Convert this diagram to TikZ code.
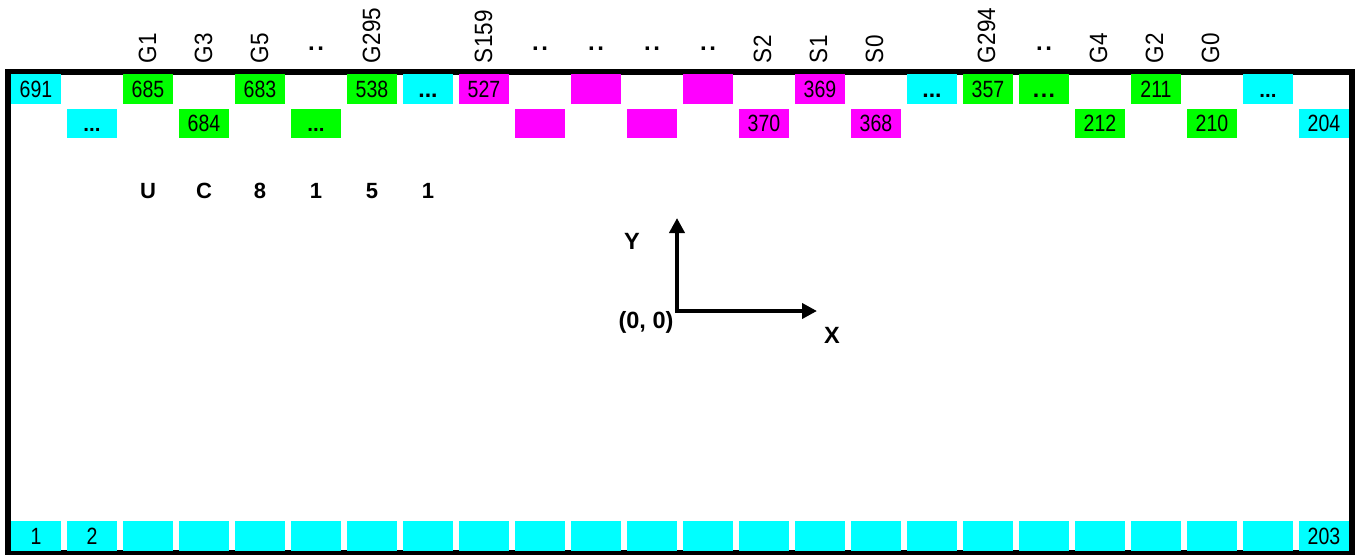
\documentclass[tikz,border=0pt]{standalone}
\usepackage{fontspec}
\setmainfont{Liberation Sans}
\newfontfamily\padfont[FakeStretch=0.83]{Liberation Sans}
\newfontfamily\rotfont[FakeStretch=0.9]{Liberation Sans}
\definecolor{padcyan}{RGB}{0,255,255}
\definecolor{padgreen}{RGB}{0,255,0}
\definecolor{padmag}{RGB}{255,0,255}
\usetikzlibrary{arrows.meta}
\tikzset{
  x=1pt,y=-1pt,
  pad/.style={anchor=north west,inner sep=0pt,outer sep=0pt,minimum width=50pt,minimum height=29.5pt,
    text height=16.5pt,text depth=0pt,font=\padfont\fontsize{23.5}{24}\selectfont,text=black},
  cy/.style={pad,fill=padcyan},
  gr/.style={pad,fill=padgreen},
  mg/.style={pad,fill=padmag},
  boldpad/.style={font=\bfseries\fontsize{23}{24}\selectfont},
  dotpad/.style={font=\bfseries\fontsize{20.5}{24}\selectfont},
  side/.style={rotate=90,anchor=base west,inner sep=0pt,outer sep=0pt,font=\rotfont\fontsize{25}{26}\selectfont},
  gap/.style={anchor=base,inner sep=0pt,outer sep=0pt,font=\bfseries\fontsize{24}{26}\selectfont},
  mark label/.style={anchor=center,inner sep=0pt,outer sep=0pt,font=\bfseries\fontsize{22}{24}\selectfont},
  axis line/.style={line width=4.4pt,-{Triangle[length=15pt,width=15pt]}},
  frame line/.style={draw=black,line width=6pt,fill=none}
}
\newcommand{\dd}{.\kern2.5pt.}
\begin{document}
\begin{tikzpicture}
\useasboundingbox (0,0) rectangle (1359,554);
\fill[white] (0,0) rectangle (1359,554);
\draw[frame line] (8,72) rectangle (1352,553);
% top row
\node[cy] (p691) at (11,74) {691};
\node[gr] (p685) at (123,74) {685};
\node[gr] (p683) at (235,74) {683};
\node[gr] (p538) at (347,74) {538};
\node[cy,boldpad] (t7) at (403,74) {...};
\node[mg] (p527) at (459,74) {527};
\node[mg] (t10) at (571,74) {};
\node[mg] (t12) at (683,74) {};
\node[mg] (p369) at (795,74) {369};
\node[cy,boldpad] (t16) at (907,74) {...};
\node[gr] (p357) at (963,74) {357};
\node[gr,boldpad] (t18) at (1019,74) {.\kern1.5pt.\kern1.5pt.};
\node[gr] (p211) at (1131,74) {211};
\node[cy,dotpad] (t22) at (1243,74) {...};
% second row
\node[cy,dotpad] (s1) at (67,108.5) {...};
\node[gr] (p684) at (179,108.5) {684};
\node[gr,dotpad] (s5) at (291,108.5) {...};
\node[mg] (s9) at (515,108.5) {};
\node[mg] (s11) at (627,108.5) {};
\node[mg] (p370) at (739,108.5) {370};
\node[mg] (p368) at (851,108.5) {368};
\node[gr] (p212) at (1075,108.5) {212};
\node[gr] (p210) at (1187,108.5) {210};
\node[cy] (p204) at (1299,108.5) {204};
% bottom row
\node[cy] (b1) at (11,521) {1};
\node[cy] (b2) at (67,521) {2};
\foreach \i in {3,...,23} {
  \node[cy] (b\i) at ({123+56*(\i-3)},521) {};
}
\node[cy] (b203) at (1299,521) {203};
% side labels
\node[side] (g1) at (156,63) {G1};
\node[side] (g3) at (212,63) {G3};
\node[side] (g5) at (268,63) {G5};
\node[gap] (d1) at (316,50.5) {\dd};
\node[side] (g295) at (380,63) {G295};
\node[side] (s159) at (492,63) {S159};
\node[gap] (d2) at (540,50.5) {\dd};
\node[gap] (d3) at (596,50.5) {\dd};
\node[gap] (d4) at (652,50.5) {\dd};
\node[gap] (d5) at (708,50.5) {\dd};
\node[side] (s2) at (771,63) {S2};
\node[side] (s1l) at (827,63) {S1};
\node[side] (s0) at (883,63) {S0};
\node[side] (g294) at (995,63) {G294};
\node[gap] (d6) at (1044,50.5) {\dd};
\node[side] (g4) at (1107,63) {G4};
\node[side] (g2) at (1163,63) {G2};
\node[side] (g0) at (1219,63) {G0};
% chip name
\node[mark label] (mu) at (148,191) {U};
\node[mark label] (mc) at (204,191) {C};
\node[mark label] (m8) at (260,191) {8};
\node[mark label] (m1) at (316,191) {1};
\node[mark label] (m5) at (372,191) {5};
\node[mark label] (m1b) at (428,191) {1};
% axes
\coordinate (origin) at (677,311);
\coordinate (ytip) at (677,218);
\coordinate (xtip) at (817,311);
\draw[axis line] (origin) -- (ytip);
\draw[axis line] ([xshift=-2.2pt]origin) -- (xtip);
\node[mark label,font=\bfseries\fontsize{23.5}{24}\selectfont] (ly) at (632,241) {Y};
\node[mark label,font=\bfseries\fontsize{23.5}{24}\selectfont] (lo) at (646,322) {(0, 0)};
\node[mark label,font=\bfseries\fontsize{23.5}{24}\selectfont] (lx) at (832,335) {X};
\end{tikzpicture}
\end{document}
